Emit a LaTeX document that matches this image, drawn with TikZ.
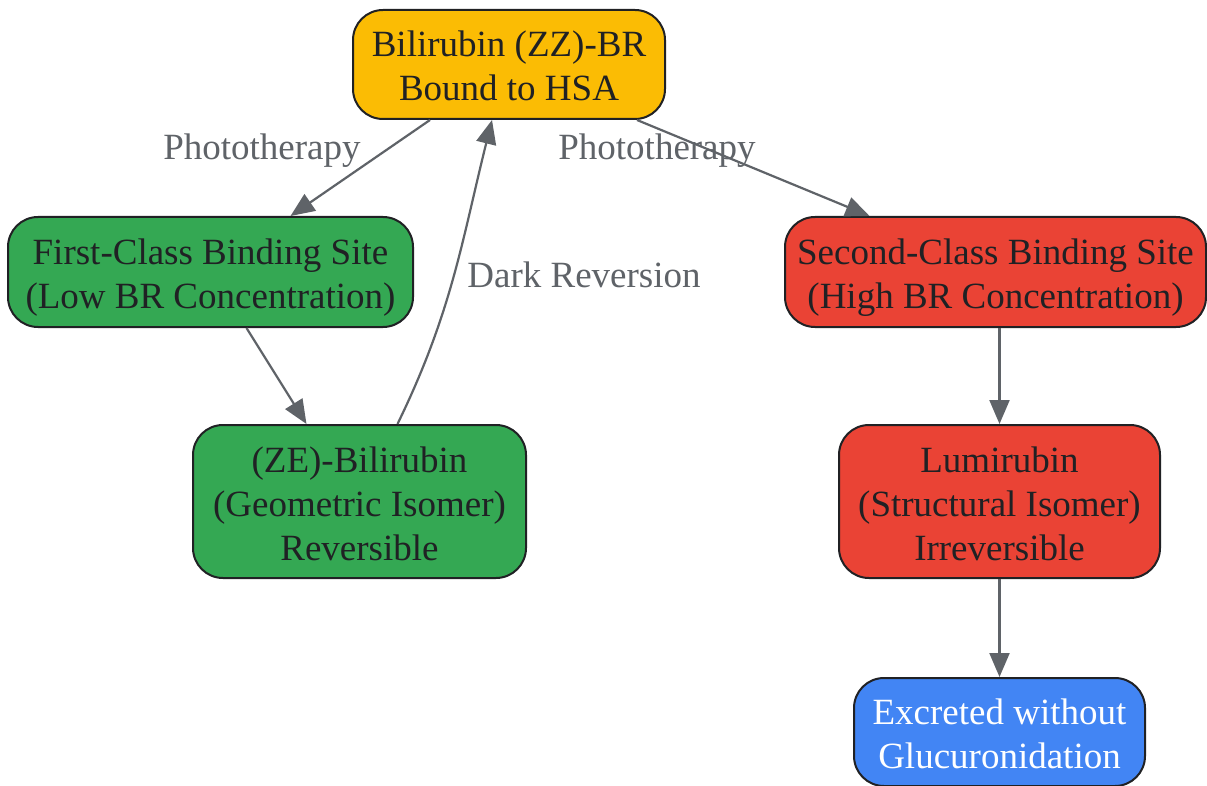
\documentclass[tikz,border=0pt]{standalone}
\usepackage{fontspec}
\setmainfont{Liberation Serif}
\usetikzlibrary{arrows.meta}
\definecolor{txt}{HTML}{202124}
\definecolor{edgec}{HTML}{5F6368}
\definecolor{cyel}{HTML}{FBBC04}
\definecolor{cgrn}{HTML}{34A853}
\definecolor{cred}{HTML}{EA4335}
\definecolor{cblu}{HTML}{4285F4}
\definecolor{bord}{HTML}{202124}
\newcommand\mystrutA{\rule{0pt}{37pt}}
\newcommand\mystrutB{\rule[-8pt]{0pt}{8pt}}
\tikzset{
  box/.style={draw=bord, line width=2pt, rounded corners=30pt, align=center,
    text=txt, inner sep=0pt, font=\fontsize{37}{44}\selectfont},
  conn/.style={draw=edgec, line width=2.2pt, -{Triangle[length=24pt,width=20pt]}},
  lab/.style={text=edgec, font=\fontsize{37}{44}\selectfont, inner sep=0pt},
}
\begin{document}
\begin{tikzpicture}[x=1pt,y=-1pt]
\useasboundingbox[fill=white] (0,0) rectangle (1207,786);
\node[box, fill=cyel, minimum width=312pt, minimum height=109pt] (top) at (509,64.5) {\mystrutA Bilirubin (ZZ)-BR\\Bound to HSA\mystrutB};
\node[box, fill=cgrn, minimum width=405pt, minimum height=110pt] (first) at (210.5,272) {\mystrutA First-Class Binding Site\\(Low BR Concentration)\mystrutB};
\node[box, fill=cred, minimum width=421pt, minimum height=110pt] (second) at (995.5,272) {\mystrutA Second-Class Binding Site\\(High BR Concentration)\mystrutB};
\node[box, fill=cgrn, minimum width=333pt, minimum height=153pt] (ze) at (359.5,501.5) {\mystrutA(ZE)-Bilirubin\\(Geometric Isomer)\\Reversible\mystrutB};
\node[box, fill=cred, minimum width=321pt, minimum height=153pt] (lumi) at (999.5,501.5) {\mystrutA Lumirubin\\(Structural Isomer)\\Irreversible\mystrutB};
\node[box, fill=cblu, text=white, minimum width=291pt, minimum height=108pt] (exc) at (999.5,732) {\mystrutA Excreted without\\Glucuronidation\mystrutB};

\draw[conn] ([xshift=-79pt]top.south) -- ([xshift=80pt]first.north);
\draw[conn] ([xshift=128pt]top.south) -- ([xshift=-126pt]second.north);
\draw[conn] ([xshift=36pt]first.south) -- ([xshift=-53pt]ze.north);
\draw[conn] ([xshift=38pt]ze.north) to[out=64,in=-104] ([xshift=-17pt]top.south);
\draw[conn] (second.south -| lumi.north) -- (lumi.north);
\draw[conn] (lumi.south) -- (exc.north);

\node[lab] (l1) at (262,151) {Phototherapy};
\node[lab] (l2) at (657,151) {Phototherapy};
\node[lab] (l3) at (584,275) {Dark Reversion};
\end{tikzpicture}
\end{document}
